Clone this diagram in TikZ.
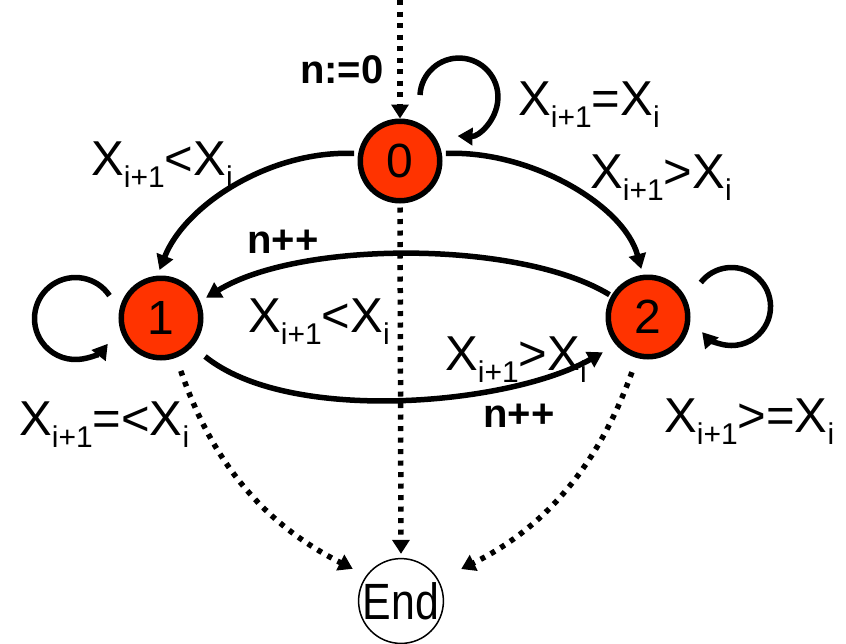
\documentclass[tikz,border=0pt]{standalone}
\usepackage{fontspec}
\setmainfont{Liberation Sans}
\usetikzlibrary{arrows.meta}
\definecolor{stateRed}{RGB}{255,51,0}
\newcommand{\Xsub}[1]{X\raisebox{-12pt}{\fontsize{30}{30}\selectfont #1}}
\begin{document}
\begin{tikzpicture}[x=1pt,y=1pt,
  state/.style={circle,draw,line width=5.5pt,fill=stateRed,minimum size=79.5pt,inner sep=0pt,font=\fontsize{48}{48}\selectfont},
  endstate/.style={circle,draw,line width=1.5pt,minimum size=76.5pt,inner sep=0pt},
  trans/.style={line width=5.5pt,-{Triangle[length=15pt,width=17pt]}},
  dotline/.style={line width=5.5pt,dash pattern=on 5pt off 6.5pt,-{Triangle[length=14pt,width=17pt]}},
  lab/.style={anchor=base west,inner sep=0pt,font=\fontsize{49}{49}\selectfont},
  blab/.style={anchor=base west,inner sep=0pt,font=\fontsize{40}{40}\selectfont\bfseries}]
\useasboundingbox (0,0) rectangle (846,-643);
% states
\node[state] (n0) at (400,-161) {0};
\node[state] (n1) at (161,-318) {1};
\node[state] (n2) at (648,-317) {2};
\node[endstate] (e) at (401,-601) {\fontsize{51}{51}\selectfont\scalebox{0.84}[1]{End}};
\coordinate (init) at (400,0);
% labels
\node[blab] (l0) at (300,-83) {n:=0};
\node[lab] (l1) at (518,-115) {\Xsub{i+1}=\Xsub{i}};
\node[lab] (l2) at (91,-175) {\Xsub{i+1}<\Xsub{i}};
\node[lab] (l3) at (590,-188) {\Xsub{i+1}>\Xsub{i}};
\node[blab] (l4) at (247,-253) {n++};
\node[lab] (l5) at (248,-332) {\Xsub{i+1}<\Xsub{i}};
\node[lab] (l6) at (445,-370) {\Xsub{i+1}>\Xsub{i}};
\node[blab] (l7) at (483,-427) {n++};
\node[lab] (l8) at (19,-435) {\Xsub{i+1}=<\Xsub{i}};
\node[lab] (l9) at (664,-432) {\Xsub{i+1}>=\Xsub{i}};
% dotted connectors
\draw[dotline] (init) -- (n0.north);
\draw[dotline,shorten <=4pt,shorten >=4pt] (n0.south) -- (e.north);
\draw[dotline,shorten <=14pt,shorten >=15pt] (n1.-69) to[bend right=22] (e.144);
\draw[dotline,shorten <=15pt,shorten >=25pt] (n2.-105) to[bend left=22] (e.29);
% transitions
\draw[trans,shorten <=4pt,shorten >=6pt] (n0.170) .. controls (270,-150) and (185,-205) .. (n1.95);
\draw[trans,shorten <=4pt,shorten >=6pt] (n0.10) .. controls (530,-150) and (624,-205) .. (n2.97);
\draw[trans,shorten <=2pt,shorten >=7pt] (n2.150) .. controls (520,-240) and (300,-240) .. (n1.23);
\draw[trans,shorten <=16pt,shorten >=15pt] (n1.-42) .. controls (290,-425) and (510,-405) .. (n2.221);
% self loops
\draw[trans] ([shift={(20,66)}]n0.center) arc[start angle=177,end angle=-92,radius=39];
\draw[trans] ([shift={(-51.5,22.4)}]n1.center) arc[start angle=34,end angle=322,radius=41];
\draw[trans] ([shift={(52.8,34.5)}]n2.center) arc[start angle=142,end angle=-139,radius=39];
\end{tikzpicture}
\end{document}
